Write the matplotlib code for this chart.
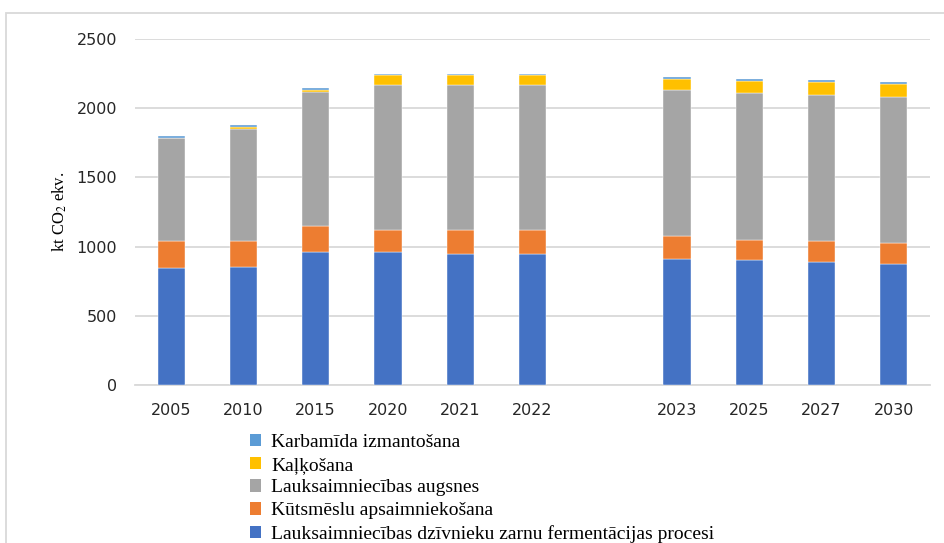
import numpy as np
import matplotlib.pyplot as plt
from matplotlib.patches import Patch, Rectangle

plt.rcParams['mathtext.fontset'] = 'stix'

# gadi (tukšs starp 2022 un 2023 - atdala vēsturi no prognozes)
years = ['2005', '2010', '2015', '2020', '2021', '2022', '', '2023', '2025', '2027', '2030']

# emisijas, kt CO2 ekv. (nolasīts no attēla)
fermentacija = [843, 855, 959, 959, 947, 947, np.nan, 910, 901, 889, 876]
kutsmesli = [197, 185, 188, 163, 175, 175, np.nan, 167, 149, 149, 150]
augsnes = [743, 812, 972, 1046, 1046, 1046, np.nan, 1054, 1058, 1057, 1057]
kalkosana = [4, 14, 15, 70, 70, 70, np.nan, 82, 91, 94, 94]
karbamids = [10, 13, 10, 11, 11, 11, np.nan, 12, 14, 13, 12]

series = [
    ('Lauksaimniecības dzīvnieku zarnu fermentācijas procesi', fermentacija, '#4472C4'),
    ('Kūtsmēslu apsaimniekošana', kutsmesli, '#ED7D31'),
    ('Lauksaimniecības augsnes', augsnes, '#A5A5A5'),
    ('Kaļķošana', kalkosana, '#FFC000'),
    ('Karbamīda izmantošana', karbamids, '#5B9BD5'),
]

fig = plt.figure(figsize=(9.44, 5.43), dpi=100)
ax = fig.add_axes([135/944, 1 - 385/543, 795/944, 346/543])

x = np.arange(len(years))
mask = ~np.isnan(np.array(fermentacija, dtype=float))
bottom = np.zeros(len(years))
handles = []
for name, vals, col in series:
    v = np.nan_to_num(np.array(vals, dtype=float))
    ax.bar(x[mask], v[mask], 0.375, bottom=bottom[mask], color=col,
           edgecolor='white', linewidth=0.3, zorder=3)
    bottom += v
    handles.append(Patch(facecolor=col, label=name))

ax.set_xlim(-0.5, len(years) - 0.5)
ax.set_ylim(0, 2500)
ax.set_yticks([0, 500, 1000, 1500, 2000, 2500])
ax.set_xticks(x)
ax.set_xticklabels(years)
ax.grid(axis='y', color='#D9D9D9', linewidth=1.3, zorder=0)
for s in ['top', 'right', 'left']:
    ax.spines[s].set_visible(False)
ax.spines['bottom'].set_color('#D9D9D9')
ax.spines['bottom'].set_linewidth(1.3)
ax.tick_params(length=0, labelsize=11.5, colors='#262626')
ax.tick_params(axis='x', pad=13)
ax.tick_params(axis='y', pad=13)

ax.set_ylabel('kt CO$_2$ ekv.', family='Liberation Serif', fontsize=12, labelpad=5)

leg = fig.legend(handles=handles[::-1], loc='upper left', bbox_to_anchor=(240/944, 1 - 424/543),
                 frameon=False, handlelength=0.6, handleheight=0.6, handletextpad=0.5,
                 labelspacing=0.3, borderpad=0, prop={'family': 'Liberation Serif', 'size': 14})

# rāmis ap diagrammu
fig.patches.append(Rectangle((6/944, -0.1), 1.2, 1 - 13/543 + 0.1, transform=fig.transFigure,
                             fill=False, edgecolor='#D9D9D9', linewidth=1.3))

fig.savefig('out.png', dpi=100)
